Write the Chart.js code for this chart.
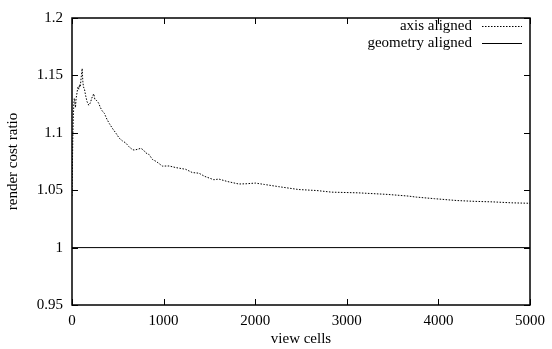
<!DOCTYPE html>
<html>
<head>
<meta charset="utf-8">
<script src="https://cdn.jsdelivr.net/npm/chart.js@4/dist/chart.umd.min.js"></script>
<style>
html,body{margin:0;padding:0;background:#fff;}
#wrap{width:552px;height:349px;}
</style>
</head>
<body>
<div id="wrap"><canvas id="c" width="552" height="349"></canvas></div>
<script>
const seriesLabels = ["axis aligned", "geometry aligned"];
const axisX = [0, 3, 6, 10, 15, 20, 25, 30, 38, 45, 55, 65, 75, 82, 90, 100, 111, 118, 125, 136, 150, 165, 183, 200, 215, 237, 250, 270, 290, 310, 330, 353, 380, 408, 440, 480, 516, 550, 589, 620, 661, 679, 710, 752, 780, 806, 842, 878, 920, 987, 1060, 1133, 1241, 1313, 1386, 1450, 1549, 1603, 1700, 1821, 1900, 2002, 2100, 2255, 2473, 2672, 2835, 3125, 3451, 3668, 3758, 3958, 4200, 4393, 4600, 4800, 5000];
const axisY = [1.045, 1.06, 1.08, 1.10, 1.115, 1.125, 1.13, 1.128, 1.122, 1.13, 1.135, 1.14, 1.138, 1.142, 1.14, 1.148, 1.156, 1.145, 1.14, 1.138, 1.132, 1.127, 1.124, 1.126, 1.13, 1.134, 1.129, 1.128, 1.126, 1.122, 1.119, 1.117, 1.112, 1.108, 1.104, 1.0996, 1.0953, 1.093, 1.091, 1.088, 1.0853, 1.085, 1.0855, 1.0865, 1.085, 1.0825, 1.081, 1.0768, 1.075, 1.071, 1.0711, 1.0697, 1.0682, 1.0654, 1.0648, 1.062, 1.0591, 1.0597, 1.0575, 1.0554, 1.0556, 1.0562, 1.055, 1.0531, 1.0506, 1.0497, 1.0483, 1.0477, 1.0463, 1.0449, 1.044, 1.0426, 1.041, 1.0403, 1.0398, 1.039, 1.0386];
const geomX = [0, 5000];
const geomY = [1, 1];
const xTicks = [0, 1000, 2000, 3000, 4000, 5000];
const yTicks = [0.95, 1, 1.05, 1.1, 1.15, 1.2];

const FONT = "'Liberation Serif', 'DejaVu Serif', serif";

const framePlugin = {
  id: 'frame',
  afterDatasetsDraw(chart) {
    const ctx = chart.ctx, a = chart.chartArea;
    const xs = chart.scales.x, ys = chart.scales.y;
    ctx.save();
    ctx.strokeStyle = '#000';
    ctx.lineWidth = 1;
    ctx.setLineDash([]);
    ctx.beginPath();
    const L = 6;
    xTicks.forEach(v => {
      const px = Math.round(xs.getPixelForValue(v)) + 0.5;
      ctx.moveTo(px, a.bottom); ctx.lineTo(px, a.bottom - L);
      ctx.moveTo(px, a.top); ctx.lineTo(px, a.top + L);
    });
    yTicks.forEach(v => {
      const py = Math.round(ys.getPixelForValue(v)) + 0.5;
      ctx.moveTo(a.left, py); ctx.lineTo(a.left + L, py);
      ctx.moveTo(a.right, py); ctx.lineTo(a.right - L, py);
    });
    ctx.stroke();
    ctx.lineWidth = 1.5;
    ctx.strokeRect(a.left, a.top, a.right - a.left, a.bottom - a.top);
    // legend
    ctx.font = "15px " + FONT;
    ctx.fillStyle = '#000';
    ctx.textAlign = 'right';
    ctx.textBaseline = 'middle';
    const rows = [26, 43];
    chart.data.datasets.forEach((ds, i) => {
      const y = rows[i] + 0.5;
      ctx.fillText(ds.label, 472, rows[i]);
      ctx.lineWidth = 1;
      ctx.setLineDash(ds.borderDash || []);
      ctx.beginPath();
      ctx.moveTo(482, y); ctx.lineTo(522, y);
      ctx.stroke();
      ctx.setLineDash([]);
    });
    ctx.restore();
  }
};

new Chart(document.getElementById('c'), {
  type: 'line',
  data: {
    datasets: [
      {
        label: seriesLabels[0],
        data: axisX.map((x, i) => ({x: x, y: axisY[i]})),
        borderColor: '#000',
        borderWidth: 1,
        borderDash: [1.5, 1.5],
        pointRadius: 0,
        tension: 0,
        fill: false
      },
      {
        label: seriesLabels[1],
        data: geomX.map((x, i) => ({x: x, y: geomY[i]})),
        borderColor: '#000',
        borderWidth: 1,
        pointRadius: 0,
        tension: 0,
        fill: false
      }
    ]
  },
  options: {
    responsive: false,
    animation: false,
    layout: { padding: { top: 12, right: 20, left: 0, bottom: 0 } },
    plugins: { legend: { display: false }, tooltip: { enabled: false } },
    scales: {
      x: {
        type: 'linear', min: 0, max: 5000,
        afterBuildTicks(s) { s.ticks = xTicks.map(v => ({value: v})); },
        afterFit(s) { s.height = 44; },
        grid: { display: false, drawTicks: false },
        border: { display: false },
        ticks: { color: '#000', font: { family: FONT, size: 15 }, padding: 7, maxRotation: 0, callback: v => String(v) },
        title: { display: true, text: 'view cells', color: '#000', font: { family: FONT, size: 15 }, padding: { top: 0, bottom: 1 } }
      },
      y: {
        type: 'linear', min: 0.95, max: 1.2,
        afterBuildTicks(s) { s.ticks = yTicks.map(v => ({value: v})); },
        afterFit(s) { s.width = 72; },
        grid: { display: false, drawTicks: false },
        border: { display: false },
        ticks: { color: '#000', font: { family: FONT, size: 15 }, padding: 9, callback: v => String(Math.round(v * 100) / 100) },
        title: { display: true, text: 'render cost ratio', color: '#000', font: { family: FONT, size: 15 }, padding: { top: 4, bottom: 0 } }
      }
    }
  },
  plugins: [framePlugin]
});
</script>
</body>
</html>
